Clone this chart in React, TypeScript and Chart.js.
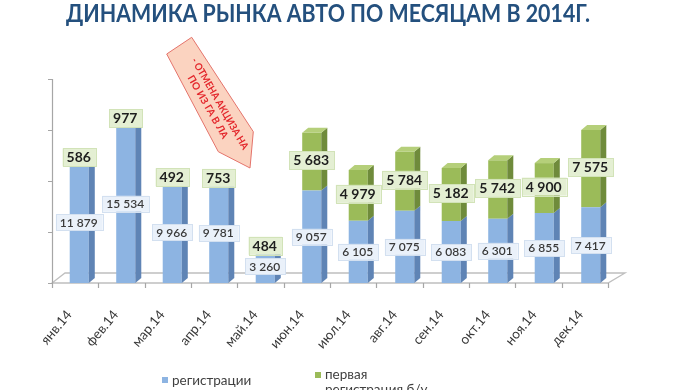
import React, { useEffect, useRef } from 'react';
import { Chart, registerables } from 'chart.js';

Chart.register(...registerables);

const TITLE = 'ДИНАМИКА РЫНКА АВТО ПО МЕСЯЦАМ В 2014Г.';
const MONTHS = ['янв.14', 'фев.14', 'мар.14', 'апр.14', 'май.14', 'июн.14', 'июл.14', 'авг.14', 'сен.14', 'окт.14', 'ноя.14', 'дек.14'];
const REGISTRATIONS = [11879, 15534, 9966, 9781, 3260, 9057, 6105, 7075, 6083, 6301, 6855, 7417];
const FIRST_USED = [586, 977, 492, 753, 484, 5683, 4979, 5784, 5182, 5742, 4900, 7575];
const SERIES_NAMES = ['регистрации', 'первая регистрация б/у'];
const Y_TICKS = [0, 5000, 10000, 15000, 20000];
const NOTE_LINES = ['- ОТМЕНА АКЦИЗА НА', 'ПО ИЗ ГА В ЛА'];

const FACE = [
  { front: '#8DB4E2', side: '#5F84B5', top: '#A9C7EC', box: '#EAF1FA', boxLine: '#D3E0F0' },
  { front: '#9BBB59', side: '#6F8B3B', top: '#B5CF7A', box: '#E4EFD3', boxLine: '#D2E3B8' },
];
const FONT = 'Lato, "Open Sans", sans-serif';

const fmt = (v: number) => String(v).replace(/\B(?=(\d{3})+(?!\d))/g, ' ');

const excel3d = {
  id: 'excel3d',
  beforeDatasetsDraw(chart: any) {
    const { ctx, chartArea, scales } = chart;
    const ys = scales.y;
    const L = chartArea.left - 4;
    const R = chartArea.right - 6;
    const B = ys.getPixelForValue(0);
    ctx.save();
    ctx.beginPath();
    ctx.moveTo(L, B);
    ctx.lineTo(R, B);
    ctx.lineTo(R + 17, B - 10);
    ctx.lineTo(L + 13, B - 10);
    ctx.closePath();
    ctx.fillStyle = '#FFFFFF';
    ctx.fill();
    ctx.strokeStyle = '#BFBFBF';
    ctx.lineWidth = 1.3;
    ctx.stroke();

    ctx.beginPath();
    ctx.strokeStyle = '#A6A6A6';
    ctx.lineWidth = 1.2;
    ctx.moveTo(L + 0.5, B);
    ctx.lineTo(L + 0.5, ys.getPixelForValue(Y_TICKS[Y_TICKS.length - 1]));
    for (const t of Y_TICKS) {
      const py = Math.round(ys.getPixelForValue(t)) + 0.5;
      ctx.moveTo(L - 4, py);
      ctx.lineTo(L + 0.5, py);
    }
    const n = MONTHS.length;
    for (let i = 0; i <= n; i++) {
      const px = Math.round(L + (i * (R - L)) / n) + 0.5;
      ctx.moveTo(px, B);
      ctx.lineTo(px, B + 5);
    }
    ctx.stroke();
    ctx.restore();
  },
  afterDatasetsDraw(chart: any) {
    const { ctx } = chart;
    const dx = 6;
    const dy = 5;
    const nSets = chart.data.datasets.length;
    ctx.save();
    for (let d = 0; d < nSets; d++) {
      const meta = chart.getDatasetMeta(d);
      meta.data.forEach((el: any) => {
        const { x, y, base, width } = el.getProps(['x', 'y', 'base', 'width'], true);
        const l = x - width / 2;
        const r = x + width / 2;
        ctx.beginPath();
        ctx.moveTo(r, base);
        ctx.lineTo(r + dx, base - dy);
        ctx.lineTo(r + dx, y - dy);
        ctx.lineTo(r, y);
        ctx.closePath();
        ctx.fillStyle = FACE[d].side;
        ctx.fill();
        if (d === nSets - 1) {
          ctx.beginPath();
          ctx.moveTo(l, y);
          ctx.lineTo(l + dx, y - dy);
          ctx.lineTo(r + dx, y - dy);
          ctx.lineTo(r, y);
          ctx.closePath();
          ctx.fillStyle = FACE[d].top;
          ctx.fill();
        }
      });
    }

    // data labels
    ctx.textAlign = 'center';
    ctx.textBaseline = 'middle';
    for (let d = 0; d < nSets; d++) {
      const meta = chart.getDatasetMeta(d);
      const values = chart.data.datasets[d].data as number[];
      meta.data.forEach((el: any, i: number) => {
        const { x, y, base } = el.getProps(['x', 'y', 'base'], true);
        const text = fmt(values[i]);
        let cy = (y + base) / 2;
        let h = 16;
        if (d === 0) {
          ctx.font = `600 12px ${FONT}`;
        } else {
          ctx.font = `bold 14px ${FONT}`;
          cy -= 1.5;
          h = 18;
        }
        const w = ctx.measureText(text).width + 9;
        ctx.fillStyle = FACE[d].box;
        ctx.fillRect(x - w / 2, cy - h / 2, w, h);
        ctx.strokeStyle = FACE[d].boxLine;
        ctx.lineWidth = 1;
        ctx.strokeRect(Math.round(x - w / 2) + 0.5, Math.round(cy - h / 2) + 0.5, Math.round(w), h);
        ctx.fillStyle = d === 0 ? '#3A3A3A' : '#1E1E1E';
        ctx.fillText(text, x - 0.5, cy + 0.5);
      });
    }
    ctx.restore();
  },
  afterDraw(chart: any) {
    const { ctx } = chart;
    ctx.save();
    // title
    ctx.font = `bold 25px ${FONT}`;
    ctx.fillStyle = '#24507E';
    ctx.textAlign = 'center';
    ctx.textBaseline = 'alphabetic';
    ctx.fillText(TITLE, 328, 22, 524);

    // legend
    const names = chart.data.datasets.map((ds: any) => ds.label as string);
    ctx.font = `13.5px ${FONT}`;
    ctx.textAlign = 'left';
    ctx.textBaseline = 'middle';
    ctx.fillStyle = FACE[0].front;
    ctx.fillRect(162, 377, 6, 6);
    ctx.fillStyle = '#404040';
    ctx.fillText(names[0], 172, 381);
    ctx.fillStyle = FACE[1].front;
    ctx.fillRect(315, 372, 6, 6);
    ctx.fillStyle = '#404040';
    const sp = names[1].indexOf(' ');
    ctx.fillText(names[1].slice(0, sp), 325, 375);
    ctx.fillText(names[1].slice(sp + 1), 325, 390);

    // note arrow
    ctx.beginPath();
    ctx.moveTo(166.7, 54);
    ctx.lineTo(191.7, 37.3);
    ctx.lineTo(253.3, 131.7);
    ctx.lineTo(250, 168);
    ctx.lineTo(218.3, 151.7);
    ctx.closePath();
    ctx.fillStyle = '#FBD3C0';
    ctx.fill();
    ctx.strokeStyle = '#E4736B';
    ctx.lineWidth = 1;
    ctx.stroke();
    ctx.translate(213, 104);
    ctx.rotate((60 * Math.PI) / 180);
    ctx.font = `bold 10px ${FONT}`;
    ctx.fillStyle = '#E3262B';
    ctx.textAlign = 'center';
    ctx.fillText(NOTE_LINES[0], 3, -6, 104);
    ctx.fillText(NOTE_LINES[1], 0, 6, 100);
    ctx.restore();
  },
};

export default function App() {
  const ref = useRef<HTMLCanvasElement | null>(null);
  useEffect(() => {
    if (!ref.current) return;
    const chart = new Chart(ref.current, {
      type: 'bar',
      data: {
        labels: MONTHS,
        datasets: [
          { label: SERIES_NAMES[0], data: REGISTRATIONS, backgroundColor: FACE[0].front, borderWidth: 0, barPercentage: 0.41, categoryPercentage: 1 },
          { label: SERIES_NAMES[1], data: FIRST_USED, backgroundColor: FACE[1].front, borderWidth: 0, barPercentage: 0.41, categoryPercentage: 1 },
        ],
      },
      options: {
        responsive: false,
        animation: false,
        devicePixelRatio: 1,
        layout: { padding: { left: 56, right: 62, top: 79, bottom: 0 } },
        scales: {
          x: {
            stacked: true,
            grid: { display: false, drawTicks: false },
            border: { display: false },
            ticks: {
              autoSkip: false,
              minRotation: 50,
              maxRotation: 50,
              labelOffset: -10,
              padding: 24,
              color: '#383838',
              font: { family: FONT, size: 13.5 },
            },
            afterFit: (s: any) => {
              s.height = 107;
            },
          },
          y: { stacked: true, display: false, min: 0, max: Y_TICKS[Y_TICKS.length - 1] },
        },
        plugins: {
          legend: { display: false },
          title: { display: false },
          tooltip: { enabled: false },
        },
      } as any,
      plugins: [excel3d],
    });
    return () => chart.destroy();
  }, []);
  return (
    <div style={{ position: 'absolute', left: 0, top: 0, width: 676, height: 390, background: '#fff', overflow: 'hidden' }}>
      <canvas ref={ref} width={676} height={390} style={{ display: 'block' }} />
    </div>
  );
}
